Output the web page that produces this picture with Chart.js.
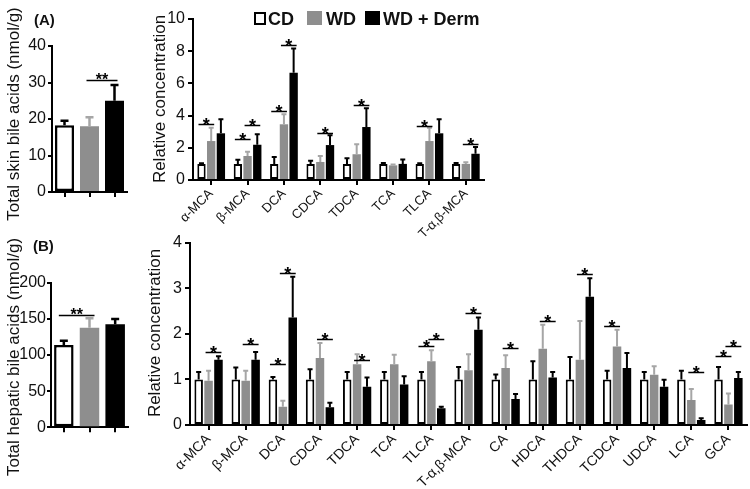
<!DOCTYPE html>
<html><head><meta charset="utf-8">
<script src="https://cdn.jsdelivr.net/npm/chart.js@4.4.0/dist/chart.umd.min.js"></script>
<style>
body{margin:0;background:#fff;width:750px;height:489px;position:relative;overflow:hidden;font-family:"Liberation Sans",Arial,Helvetica,sans-serif;color:#111;}
canvas{position:absolute;}
.plab{position:absolute;font-weight:bold;font-size:15px;line-height:15px;white-space:nowrap;}
.ytitle{position:absolute;width:300px;height:20px;line-height:20px;font-size:17px;white-space:nowrap;text-align:center;transform:rotate(-90deg);transform-origin:center center;}
.lbox{position:absolute;box-sizing:border-box;}
.ltxt{position:absolute;font-weight:bold;font-size:18px;line-height:18px;white-space:nowrap;}
</style></head>
<body>
<canvas id="cA1" width="140" height="230" style="left:0;top:0"></canvas>
<canvas id="cA2" width="360" height="240" style="left:140px;top:0"></canvas>
<canvas id="cB1" width="140" height="259" style="left:0;top:230px"></canvas>
<canvas id="cB2" width="610" height="259" style="left:140px;top:230px"></canvas>

<div class="plab" style="left:34px;top:12px">(A)</div>
<div class="plab" style="left:33px;top:238px">(B)</div>
<div class="ytitle" style="left:-136px;top:104px">Total skin bile acids (nmol/g)</div>
<div class="ytitle" style="left:10px;top:89px">Relative concentration</div>
<div class="ytitle" style="left:-136px;top:347px">Total hepatic bile acids (nmol/g)</div>
<div class="ytitle" style="left:5px;top:323px">Relative concentration</div>

<div class="lbox" style="left:254px;top:12px;width:12px;height:13px;border:2px solid #000;background:#fff"></div>
<div class="ltxt" style="left:268px;top:10px">CD</div>
<div class="lbox" style="left:307px;top:11px;width:15px;height:14px;background:#8e8e8e"></div>
<div class="ltxt" style="left:326px;top:10px">WD</div>
<div class="lbox" style="left:365px;top:11px;width:15px;height:14px;background:#000"></div>
<div class="ltxt" style="left:383px;top:10px">WD + Derm</div>

<script>
const FONT = '"Liberation Sans", Arial, Helvetica, sans-serif';

// ---- data ----
const groups = ['CD', 'WD', 'WD + Derm'];

const skinTotal = [18.3, 18.0, 25.0];
const skinTotalSem = [1.2, 2.5, 4.3];
const skinTotalTicks = [0, 10, 20, 30, 40];
const skinTotalSig = [[1, 2, 30.7, '**']];

const liverTotal = [113.8, 137.8, 142.4];
const liverTotalSem = [6.0, 12.9, 7.4];
const liverTotalTicks = [0, 50, 100, 150, 200];
const liverTotalSig = [[0, 1, 156, '**']];

const skinAcids = ['α-MCA', 'β-MCA', 'DCA', 'CDCA', 'TDCA', 'TCA', 'TLCA', 'T-α,β-MCA'];
const skinCD = [1, 1, 1, 1, 1, 1, 1, 1];
const skinCDSem = [0.04, 0.26, 0.43, 0.2, 0.35, 0.05, 0.04, 0.05];
const skinWD = [2.42, 1.49, 3.46, 1.12, 1.6, 0.91, 2.42, 1.0];
const skinWDSem = [0.83, 0.27, 0.62, 0.37, 0.62, 0.06, 0.83, 0.1];
const skinDerm = [2.9, 2.19, 6.66, 2.17, 3.29, 1.0, 2.9, 1.63];
const skinDermSem = [0.87, 0.65, 1.5, 0.61, 1.16, 0.28, 0.87, 0.42];
const skinTicks = [0, 2, 4, 6, 8, 10];
// [category, group a, group b, level]
const skinSig = [[0,0,1,3.48],[1,0,1,2.57],[1,1,2,3.42],[2,0,1,4.29],[2,1,2,8.37],[3,1,2,2.9],[4,1,2,4.66],[6,0,1,3.35],[7,1,2,2.25]];

const liverAcids = ['α-MCA', 'β-MCA', 'DCA', 'CDCA', 'TDCA', 'TCA', 'TLCA', 'T-α,β-MCA', 'CA', 'HDCA', 'THDCA', 'TCDCA', 'UDCA', 'LCA', 'GCA'];
const liverCD = [1, 1, 1, 1, 1, 1, 1, 1, 1, 1, 1, 1, 1, 1, 1];
const liverCDSem = [0.16, 0.26, 0.05, 0.22, 0.16, 0.16, 0.16, 0.27, 0.11, 0.4, 0.49, 0.19, 0.16, 0.19, 0.27];
const liverWD = [0.97, 0.97, 0.4, 1.47, 1.33, 1.33, 1.4, 1.2, 1.25, 1.67, 1.43, 1.72, 1.1, 0.55, 0.45];
const liverWDSem = [0.22, 0.22, 0.13, 0.33, 0.22, 0.21, 0.24, 0.35, 0.28, 0.53, 0.85, 0.37, 0.19, 0.24, 0.24];
const liverDerm = [1.43, 1.43, 2.36, 0.39, 0.84, 0.89, 0.37, 2.09, 0.57, 1.04, 2.81, 1.25, 0.84, 0.11, 1.03];
const liverDermSem = [0.08, 0.17, 0.89, 0.1, 0.2, 0.18, 0.03, 0.27, 0.11, 0.12, 0.41, 0.33, 0.15, 0.04, 0.13];
const liverTicks = [0, 1, 2, 3, 4];
const liverSig = [[0,1,2,1.6],[1,1,2,1.77],[2,0,1,1.33],[2,1,2,3.33],[3,1,2,1.89],[4,1,2,1.43],[6,0,1,1.73],[6,1,2,1.89],[7,1,2,2.46],[8,1,2,1.69],[9,1,2,2.28],[10,1,2,3.32],[11,0,1,2.18],[13,1,2,1.16],[14,0,1,1.51],[14,1,2,1.73]];

// ---- styles ----
const FILL = ['#ffffff', '#8e8e8e', '#000000'];
const BORDER = ['#000000', '#8e8e8e', '#000000'];
const ERRC = ['#000000', '#a6a6a6', '#000000'];

const annot = {
  id: 'annot',
  afterDatasetsDraw(chart, args, o) {
    if (!o || !o.sig) return;
    const ctx = chart.ctx, ys = chart.scales.y;
    ctx.save();
    chart.data.datasets.forEach((ds, di) => {
      const meta = chart.getDatasetMeta(di);
      meta.data.forEach((bar, i) => {
        const top = ys.getPixelForValue(ds.data[i] + ds.sem[i]);
        ctx.strokeStyle = Array.isArray(ds.errColor) ? ds.errColor[i] : ds.errColor;
        ctx.lineWidth = o.errWidth;
        ctx.beginPath();
        ctx.moveTo(bar.x, bar.y);
        ctx.lineTo(bar.x, top);
        ctx.moveTo(bar.x - o.cap / 2, top);
        ctx.lineTo(bar.x + o.cap / 2, top);
        ctx.stroke();
      });
    });
    ctx.fillStyle = '#000';
    ctx.strokeStyle = '#000';
    ctx.font = o.starFont;
    ctx.textAlign = 'center';
    ctx.textBaseline = 'alphabetic';
    o.sig.forEach(s => {
      let x1, x2, lvl, txt;
      if (o.single) {
        const m = chart.getDatasetMeta(0).data;
        x1 = m[s[0]].x; x2 = m[s[1]].x; lvl = s[2]; txt = s[3];
      } else {
        x1 = chart.getDatasetMeta(s[1]).data[s[0]].x;
        x2 = chart.getDatasetMeta(s[2]).data[s[0]].x;
        lvl = s[3]; txt = '*';
      }
      const y = Math.round(ys.getPixelForValue(lvl)) + 0.5;
      ctx.lineWidth = o.sigWidth;
      ctx.beginPath();
      ctx.moveTo(x1 - o.ext, y);
      ctx.lineTo(x2 + o.ext, y);
      ctx.stroke();
      ctx.fillText(txt, (x1 + x2) / 2, y + o.starOffset);
    });
    ctx.restore();
  }
};

function axisCommon(tl) {
  return {
    grid: { display: true, drawOnChartArea: false, drawTicks: true, tickLength: tl, offset: false, color: '#000', lineWidth: 2 },
    border: { display: true, color: '#000', width: 2 }
  };
}

function makeChart(id, labels, datasets, ticks, area, opts) {
  const x = axisCommon(5);
  x.ticks = opts.xLabels
    ? { display: true, color: '#111', font: { family: FONT, size: opts.xFont }, minRotation: 45, maxRotation: 45, padding: 1, autoSkip: false }
    : { display: false };
  x.afterFit = s => { s.height = area.xh; };
  const y = axisCommon(opts.yTick);
  y.min = ticks[0];
  y.max = ticks[ticks.length - 1];
  y.ticks = { stepSize: ticks[1] - ticks[0], color: '#111', font: { family: FONT, size: 16 }, padding: opts.yPad };
  y.afterFit = s => { s.width = area.yw; };
  return new Chart(document.getElementById(id), {
    type: 'bar',
    data: { labels, datasets },
    options: {
      responsive: false,
      animation: false,
      events: [],
      layout: { padding: { left: 0, top: area.top, right: area.right, bottom: 0 } },
      plugins: { legend: { display: false }, tooltip: { enabled: false }, annot: opts.annot },
      scales: { x, y }
    },
    plugins: [annot]
  });
}

function leftDataset(values, sem) {
  return [{
    data: values, sem, errColor: ERRC,
    backgroundColor: FILL, borderColor: BORDER, borderWidth: [2.5, 0, 0],
    borderSkipped: false, barPercentage: 0.76, categoryPercentage: 1.0
  }];
}
function rightDatasets(series, sems) {
  return series.map((d, g) => ({
    label: groups[g], data: d, sem: sems[g], errColor: ERRC[g],
    backgroundColor: FILL[g], borderColor: BORDER[g], borderWidth: g === 0 ? 2 : 0,
    borderSkipped: false, barPercentage: 0.86, categoryPercentage: 0.8
  }));
}

makeChart('cA1', groups, leftDataset(skinTotal, skinTotalSem), skinTotalTicks,
  { top: 46, right: 13, xh: 38, yw: 52 },
  { xLabels: false, yTick: 4, yPad: 2, annot: { single: true, sig: skinTotalSig, cap: 8, errWidth: 2.5, sigWidth: 1.5, ext: 3, starFont: 'bold 16px ' + FONT, starOffset: 4 } });

makeChart('cA2', skinAcids, rightDatasets([skinCD, skinWD, skinDerm], [skinCDSem, skinWDSem, skinDermSem]), skinTicks,
  { top: 19, right: 16, xh: 60, yw: 53 },
  { xLabels: true, xFont: 13, yTick: 5, yPad: 3, annot: { single: false, sig: skinSig, cap: 5, errWidth: 2, sigWidth: 1.5, ext: 3, starFont: 'bold 18px ' + FONT, starOffset: 6 } });

makeChart('cB1', groups, leftDataset(liverTotal, liverTotalSem), liverTotalTicks,
  { top: 52.7, right: 12, xh: 61.7, yw: 51 },
  { xLabels: false, yTick: 4, yPad: 1, annot: { single: true, sig: liverTotalSig, cap: 8, errWidth: 2.5, sigWidth: 1.5, ext: 5, starFont: 'bold 16px ' + FONT, starOffset: 4 } });

makeChart('cB2', liverAcids, rightDatasets([liverCD, liverWD, liverDerm], [liverCDSem, liverWDSem, liverDermSem]), liverTicks,
  { top: 11.7, right: 3, xh: 64, yw: 50 },
  { xLabels: true, xFont: 14, yTick: 5, yPad: 3, annot: { single: false, sig: liverSig, cap: 5, errWidth: 2, sigWidth: 1.5, ext: 3, starFont: 'bold 18px ' + FONT, starOffset: 6 } });
</script>
</body></html>
